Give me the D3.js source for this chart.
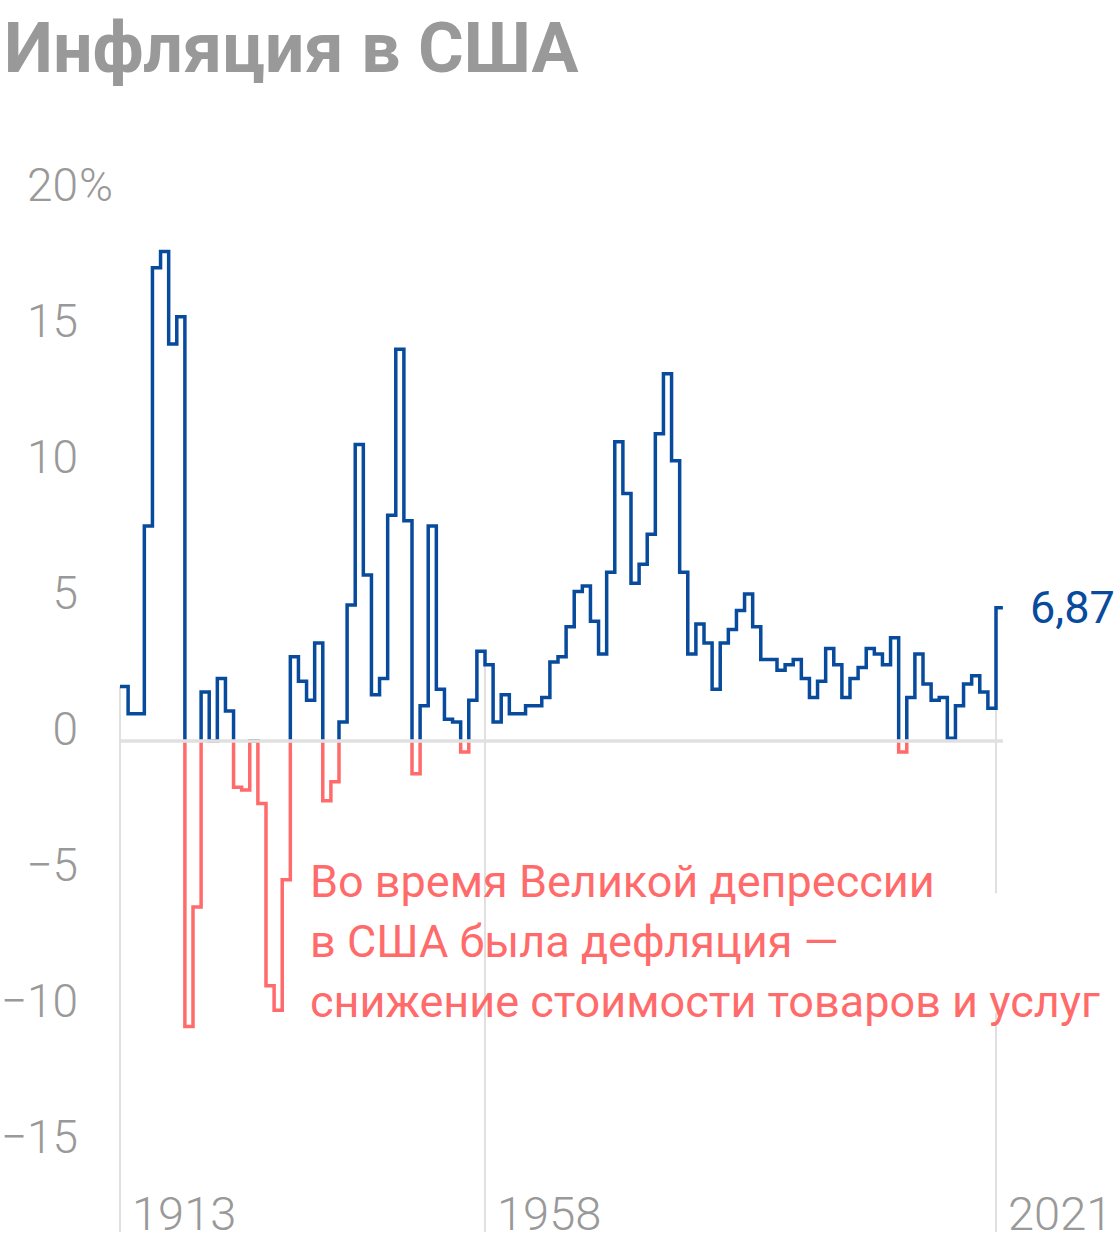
<!DOCTYPE html>
<html>
<head>
<meta charset="utf-8">
<script src="https://cdn.jsdelivr.net/npm/d3@7"></script>
<style>
  body { margin: 0; background: #fff; }
  svg text { font-family: Roboto, "Noto Sans", sans-serif; }
</style>
</head>
<body>
<div id="chart"></div>
<script>
"use strict";

// annual CPI inflation, %, 1913..2021
const years = d3.range(1913, 2022);
const inflation = [
  2.0, 1.0, 1.0, 7.9, 17.4, 18.0, 14.6, 15.6, -10.5, -6.1,   // 1913-1922
  1.8, 0.0, 2.3, 1.1, -1.7, -1.8, 0.0, -2.3, -9.0, -9.9,      // 1923-1932
  -5.1, 3.1, 2.2, 1.5, 3.6, -2.2, -1.5, 0.7, 5.0, 10.9,       // 1933-1942
  6.1, 1.7, 2.3, 8.3, 14.4, 8.1, -1.2, 1.3, 7.9, 1.9,         // 1943-1952
  0.8, 0.7, -0.4, 1.5, 3.3, 2.8, 0.7, 1.7, 1.0, 1.0,          // 1953-1962
  1.3, 1.3, 1.6, 2.9, 3.1, 4.2, 5.5, 5.7, 4.4, 3.2,           // 1963-1972
  6.2, 11.0, 9.1, 5.8, 6.5, 7.6, 11.3, 13.5, 10.3, 6.2,       // 1973-1982
  3.2, 4.3, 3.6, 1.9, 3.6, 4.1, 4.8, 5.4, 4.2, 3.0,           // 1983-1992
  3.0, 2.6, 2.8, 3.0, 2.3, 1.6, 2.2, 3.4, 2.8, 1.6,           // 1993-2002
  2.3, 2.7, 3.4, 3.2, 2.8, 3.8, -0.4, 1.6, 3.2, 2.1,          // 2003-2012
  1.5, 1.6, 0.1, 1.3, 2.1, 2.4, 1.8, 1.2, 4.9                 // 2013-2021
];
const endYear = 2021.85;          // last step runs to late 2021
const lastLabel = "6,87";

const yTicks = [20, 15, 10, 5, 0, -5, -10, -15];
const xLabels = [1913, 1958, 2021];
const gridGap = [-5.6, -10];      // 2021 gridline is broken around the note

const title = "Инфляция в США";
const note = [
  "Во время Великой депрессии",
  "в США была дефляция —",
  "снижение стоимости товаров и услуг"
];

const width = 1120, height = 1248;
const blue = "#084b9c", red = "#ff6b6b", grey = "#999", gridColor = "#e0e0e0";
const bottom = 1232;

const x = d3.scaleLinear().domain([1913, 2021]).range([120, 996]);
const y = d3.scaleLinear().domain([-15, 20]).range([1149, 197]);

const svg = d3.select("#chart").append("svg")
  .attr("width", width)
  .attr("height", height);

svg.append("rect").attr("width", width).attr("height", height).attr("fill", "#fff");

svg.append("text")
  .attr("x", 4)
  .attr("y", 72)
  .attr("font-size", 70)
  .attr("font-weight", 700)
  .attr("fill", grey)
  .text(title);

const valueOf = yr => inflation[years.indexOf(yr)];

// vertical gridlines, from the data down to the bottom
const grid = svg.append("g").attr("stroke", gridColor).attr("stroke-width", 2);
xLabels.forEach(yr => {
  const top = y(valueOf(yr));
  if (yr === 2021) {
    grid.append("line").attr("x1", x(yr)).attr("x2", x(yr)).attr("y1", top).attr("y2", y(gridGap[0]));
    grid.append("line").attr("x1", x(yr)).attr("x2", x(yr)).attr("y1", y(gridGap[1])).attr("y2", bottom);
  } else {
    grid.append("line").attr("x1", x(yr)).attr("x2", x(yr)).attr("y1", top).attr("y2", bottom);
  }
});

// y tick labels
const yAxis = svg.append("g")
  .attr("font-size", 46)
  .attr("font-weight", 300)
  .attr("fill", grey)
  .attr("text-anchor", "end");

yAxis.selectAll("text")
  .data(yTicks)
  .join("text")
    .attr("x", 78)
    .attr("y", d => y(d) + 4)
    .text(d => d < 0 ? "\u2212" + Math.abs(d) : d);

yAxis.append("text")
  .attr("x", 79)
  .attr("y", y(yTicks[0]) + 4)
  .attr("text-anchor", "start")
  .text("%");

// x labels
svg.append("g")
  .attr("font-size", 47)
  .attr("font-weight", 300)
  .attr("fill", grey)
  .selectAll("text")
  .data(xLabels)
  .join("text")
    .attr("x", d => x(d) + 12)
    .attr("y", 1230)
    .text(d => d);

// step line, blue above zero and red below
const points = years.map((yr, i) => [yr, inflation[i]]);
points.push([endYear, inflation[inflation.length - 1]]);

const line = d3.line()
  .x(d => x(d[0]))
  .y(d => y(d[1]))
  .curve(d3.curveStepAfter);

const defs = svg.append("defs");
defs.append("clipPath").attr("id", "above")
  .append("rect").attr("x", 0).attr("y", 0).attr("width", width).attr("height", y(0));
defs.append("clipPath").attr("id", "below")
  .append("rect").attr("x", 0).attr("y", y(0)).attr("width", width).attr("height", height - y(0));

svg.append("path")
  .datum(points)
  .attr("d", line)
  .attr("fill", "none")
  .attr("stroke", blue)
  .attr("stroke-width", 3.5)
  .attr("clip-path", "url(#above)");

svg.append("path")
  .datum(points)
  .attr("d", line)
  .attr("fill", "none")
  .attr("stroke", red)
  .attr("stroke-width", 3.5)
  .attr("clip-path", "url(#below)");

// zero line on top
svg.append("line")
  .attr("x1", x(1913))
  .attr("x2", x(endYear))
  .attr("y1", y(0))
  .attr("y2", y(0))
  .attr("stroke", gridColor)
  .attr("stroke-width", 3.6);

// last value label
svg.append("text")
  .attr("x", 1030)
  .attr("y", y(inflation[inflation.length - 1]) + 15)
  .attr("font-size", 45)
  .attr("fill", blue)
  .text(lastLabel);

// annotation
svg.append("g")
  .attr("font-size", 45)
  .attr("fill", red)
  .selectAll("text")
  .data(note)
  .join("text")
    .attr("x", 310)
    .attr("y", (d, i) => 897 + i * 60)
    .text(d => d);
</script>
</body>
</html>
